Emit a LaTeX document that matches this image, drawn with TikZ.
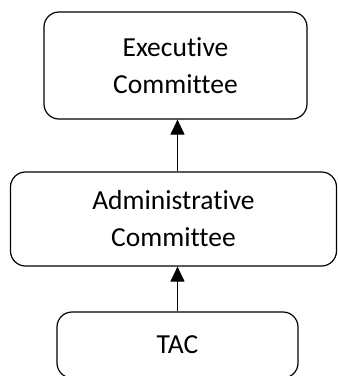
\documentclass[tikz,border=0pt]{standalone}
\usepackage{fontspec}
\setmainfont{Carlito}[Ligatures=NoCommon]
\usetikzlibrary{arrows.meta}
\begin{document}
\begin{tikzpicture}[x=1pt,y=-1pt,line join=round,line width=1.2pt,
	box/.style={draw,rounded corners=15pt,align=center,inner sep=0pt,font=\fontsize{27.5}{37}\selectfont},
	>={Triangle[width=14pt,length=15pt]}]
	\useasboundingbox (0,0) rectangle (338,376);
	\node[box,minimum width=263pt,minimum height=107pt] (exec) at (175.5,65.5) {Executive\\Committee};
	\node[box,minimum width=326pt,minimum height=94pt] (admin) at (173.5,219) {Administrative\\Committee};
	\node[box,minimum width=241pt,minimum height=66pt] (tac) at (177.5,345) {TAC};
	\draw[->] (admin.north -| tac.north) -- (exec.south -| tac.north);
	\draw[->] (tac.north) -- (tac.north |- admin.south);
\end{tikzpicture}
\end{document}
